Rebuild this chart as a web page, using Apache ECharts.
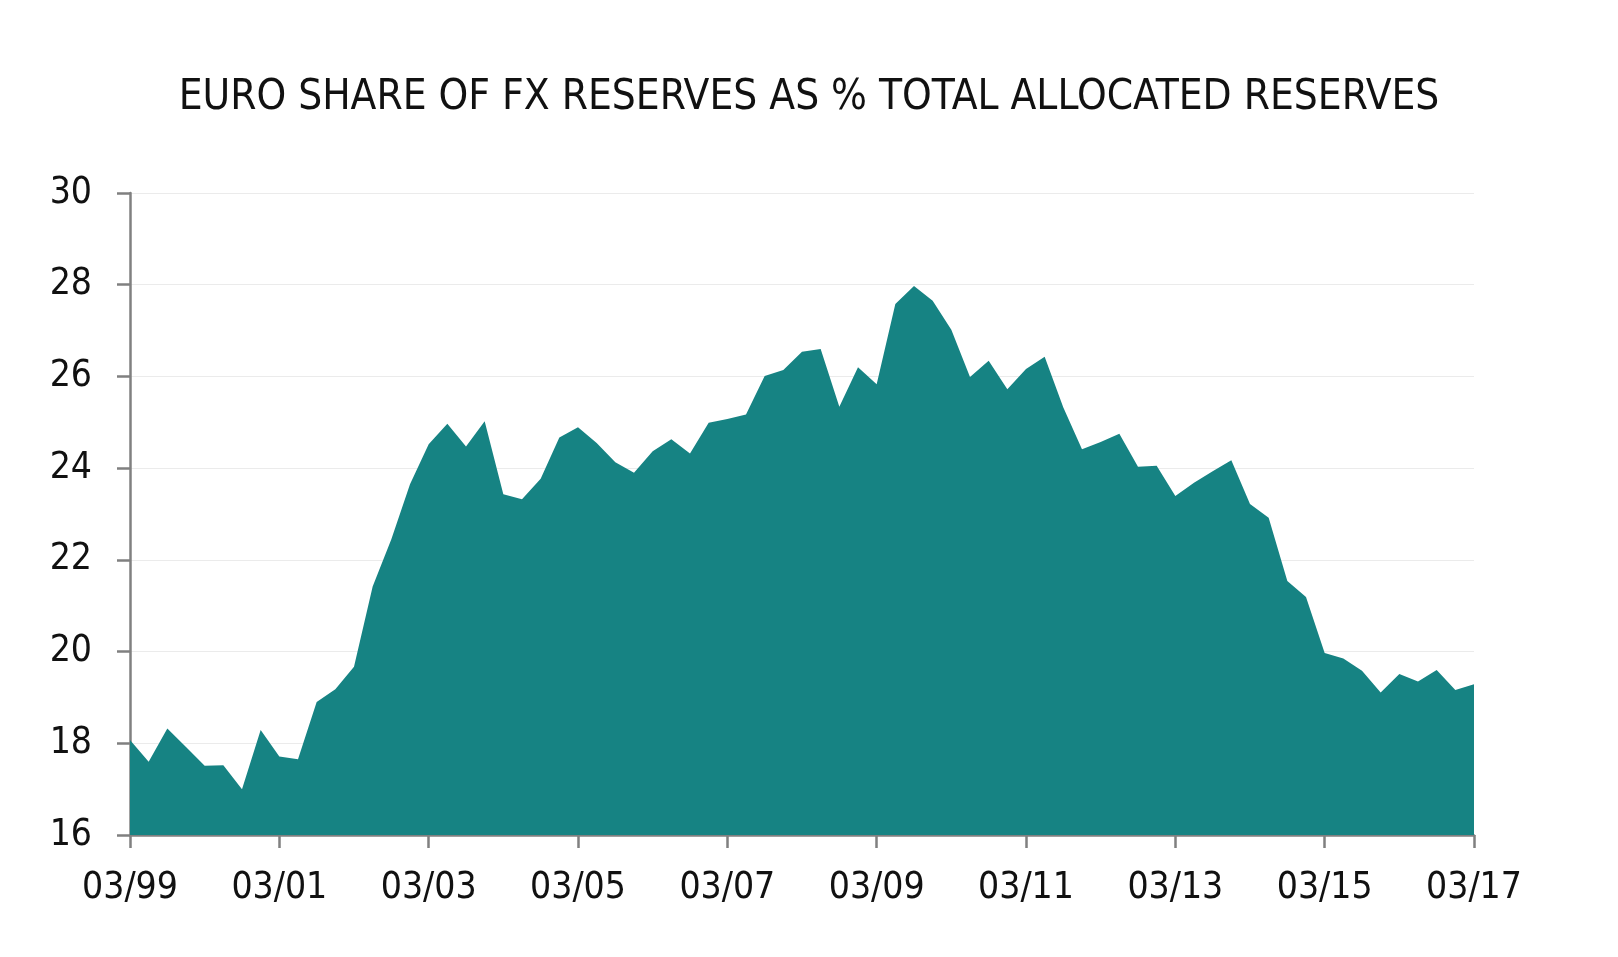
<!DOCTYPE html>
<html>
<head>
<meta charset="utf-8">
<script src="https://cdn.jsdelivr.net/npm/echarts@6/dist/echarts.min.js"></script>
<style>
html,body{margin:0;padding:0;background:#fff;}
#chart{width:1618px;height:957px;}
</style>
</head>
<body>
<div id="chart"></div>
<script>
const chartTitle = 'EURO SHARE OF FX RESERVES AS % TOTAL ALLOCATED RESERVES';
const categories = [
 '03/99','06/99','09/99','12/99','03/00','06/00','09/00','12/00',
 '03/01','06/01','09/01','12/01','03/02','06/02','09/02','12/02',
 '03/03','06/03','09/03','12/03','03/04','06/04','09/04','12/04',
 '03/05','06/05','09/05','12/05','03/06','06/06','09/06','12/06',
 '03/07','06/07','09/07','12/07','03/08','06/08','09/08','12/08',
 '03/09','06/09','09/09','12/09','03/10','06/10','09/10','12/10',
 '03/11','06/11','09/11','12/11','03/12','06/12','09/12','12/12',
 '03/13','06/13','09/13','12/13','03/14','06/14','09/14','12/14',
 '03/15','06/15','09/15','12/15','03/16','06/16','09/16','12/16',
 '03/17'
];
const euroShare = [
 18.07,17.60,18.32,17.92,17.51,17.52,17.00,18.29,
 17.71,17.65,18.90,19.18,19.67,21.42,22.45,23.65,
 24.52,24.97,24.47,25.02,23.43,23.32,23.77,24.67,
 24.89,24.55,24.13,23.90,24.37,24.63,24.32,24.99,
 25.07,25.17,26.01,26.14,26.54,26.60,25.34,26.20,
 25.83,27.58,27.97,27.65,27.02,25.99,26.34,25.72,
 26.16,26.43,25.32,24.41,24.57,24.75,24.03,24.05,
 23.39,23.68,23.93,24.17,23.22,22.92,21.54,21.19,
 19.97,19.85,19.58,19.11,19.51,19.35,19.60,19.16,
 19.29
];
const yMin = 16, yMax = 30, yStep = 2;

const FONT = "'Liberation Sans Narrow', 'DejaVu Sans Condensed', 'Roboto', sans-serif";
const chart = echarts.init(document.getElementById('chart'));
chart.setOption({
  animation: false,
  backgroundColor: '#ffffff',
  title: {
    text: chartTitle,
    left: 'center',
    top: 72,
    textStyle: {fontFamily: FONT, fontSize: 42, fontWeight: 'normal', color: '#111111'}
  },
  grid: {left: 130, right: 144, top: 193, bottom: 122, containLabel: false},
  xAxis: {
    type: 'category',
    data: categories,
    boundaryGap: false,
    axisLine: {show: true, lineStyle: {color: '#808080', width: 2.5}},
    axisTick: {show: true, interval: 7, length: 13, lineStyle: {color: '#808080', width: 2.5}},
    axisLabel: {interval: 7, margin: 35, fontFamily: FONT, fontSize: 37, color: '#111111'},
    splitLine: {show: false}
  },
  yAxis: {
    type: 'value',
    min: yMin, max: yMax, interval: yStep,
    axisLine: {show: true, lineStyle: {color: '#808080', width: 2.5}},
    axisTick: {show: true, length: 13, lineStyle: {color: '#808080', width: 2.5}},
    axisLabel: {margin: 38, fontFamily: FONT, fontSize: 37, color: '#111111'},
    splitLine: {show: true, lineStyle: {color: '#ebebeb', width: 1}}
  },
  series: [{
    type: 'line',
    data: euroShare,
    symbol: 'none',
    lineStyle: {width: 0},
    areaStyle: {color: '#168383', opacity: 1},
    itemStyle: {color: '#168383'}
  }]
});
</script>
</body>
</html>
